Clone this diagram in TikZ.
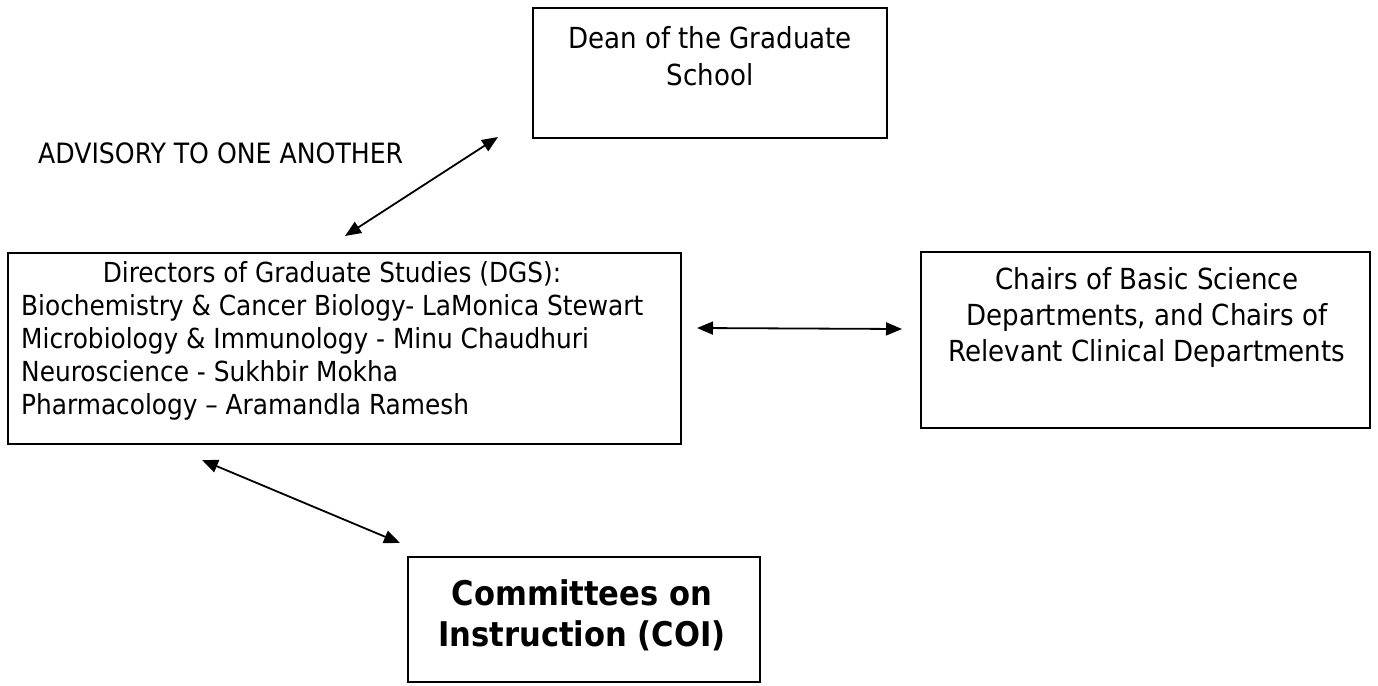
\documentclass[tikz,border=0pt]{standalone}
\usepackage{fontspec}
\setmainfont{DejaVu Sans Condensed}
\usetikzlibrary{arrows.meta}
\tikzset{
  box/.style={draw, line width=2pt, inner sep=0pt, rectangle},
  lbl/.style={inner sep=0pt, align=center},
  link/.style={line width=1.8pt,
    {Triangle[length=16pt,width=13pt]}-{Triangle[length=16pt,width=13pt]}},
}
\begin{document}
\begin{tikzpicture}[x=1pt,y=-1pt]
\useasboundingbox (0,0) rectangle (1378,685);
% boxes
\node[box, minimum width=354pt, minimum height=130pt] (dean) at (710,73) {};
\node[box, minimum width=673pt, minimum height=191pt] (dgs) at (344.5,348.5) {};
\node[box, minimum width=449pt, minimum height=176pt] (chairs) at (1145.5,340) {};
\node[box, minimum width=352pt, minimum height=125pt] (coi) at (584,619.5) {};
% texts
\node[lbl, anchor=north, font=\fontsize{29pt}{37pt}\selectfont] (deantext) at (710,26)
  {Dean of the Graduate\\School};
\node[lbl, anchor=base west, font=\fontsize{28pt}{34pt}\selectfont] (advisory) at (38,163)
  {ADVISORY TO ONE ANOTHER};
\node[lbl, anchor=north, font=\fontsize{29pt}{36pt}\selectfont] (chairstext) at (1147,267)
  {Chairs of Basic Science\\Departments, and Chairs of\\Relevant Clinical Departments};
\node[lbl, anchor=base, font=\fontsize{27.6pt}{33pt}\selectfont] (dgshead) at (332,282)
  {Directors of Graduate Studies (DGS):};
\node[lbl, align=left, anchor=north west, font=\fontsize{27.6pt}{33pt}\selectfont] (dgsbody) at (21,294)
  {Biochemistry \& Cancer Biology- LaMonica Stewart\\
   Microbiology \& Immunology - Minu Chaudhuri\\
   Neuroscience - Sukhbir Mokha\\
   Pharmacology – Aramandla Ramesh};
\node[lbl, anchor=north, font=\fontsize{34pt}{41pt}\selectfont\bfseries] (coitext) at (582,579)
  {Committees on\\Instruction (COI)};
% connector end points
\coordinate (a1s) at (345,236);
\coordinate (a1e) at (498,137);
\coordinate (a2s) at (697,328);
\coordinate (a2e) at (902,329);
\coordinate (a3s) at (202,460);
\coordinate (a3e) at (400,543);
\draw[link] (a1s) -- (a1e);
\draw[link] (a2s) -- (a2e);
\draw[link] (a3s) -- (a3e);
\end{tikzpicture}
\end{document}
